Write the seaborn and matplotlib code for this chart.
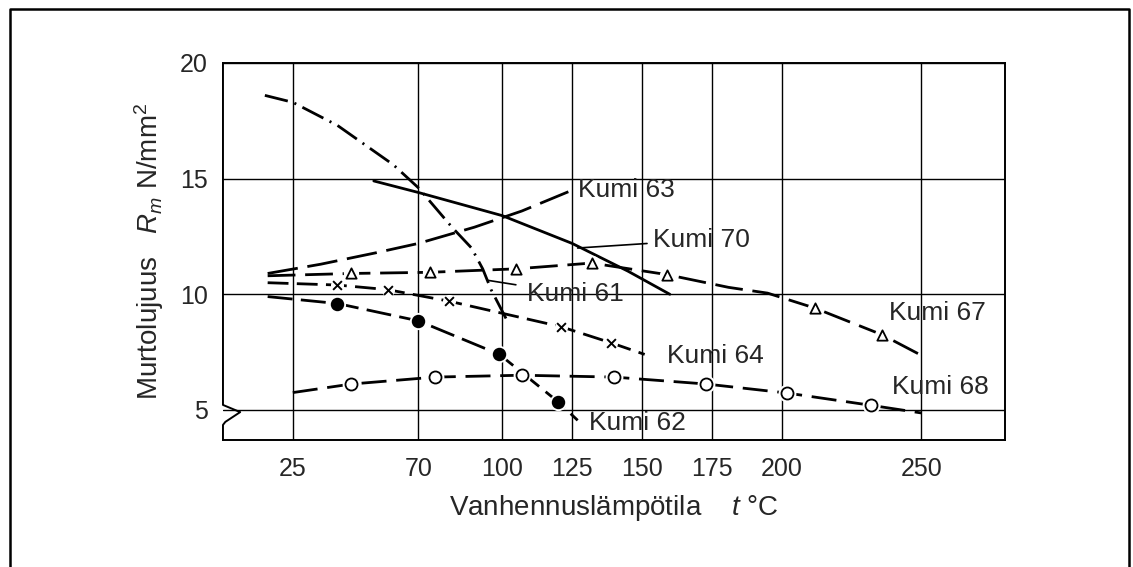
import matplotlib
matplotlib.use("Agg")
import matplotlib.pyplot as plt
from matplotlib.lines import Line2D
import seaborn as sns

# x = ageing temperature (degC), y = tensile strength Rm (N/mm2)
k61_x = [15, 25, 41, 61, 70, 82, 89, 93, 96, 102]
k61_y = [18.6, 18.3, 17.3, 15.6, 14.6, 12.9, 12.0, 11.1, 10.2, 8.8]

k70_x = [54, 70, 100, 125, 145, 160]
k70_y = [14.9, 14.4, 13.4, 12.2, 11.0, 10.0]

k63_x = [16, 35, 55, 70, 90, 107, 125]
k63_y = [10.9, 11.3, 11.8, 12.2, 12.9, 13.6, 14.5]

k67_x = [16, 46, 74, 105, 132, 159, 181, 195, 212, 236, 251]
k67_y = [10.8, 10.9, 10.95, 11.1, 11.35, 10.85, 10.3, 10.05, 9.4, 8.25, 7.3]
k67_px = [46, 74, 105, 132, 159, 212, 236]
k67_py = [10.9, 10.95, 11.1, 11.35, 10.85, 9.4, 8.25]

k64_x = [16, 41, 59, 81, 121, 139, 151]
k64_y = [10.5, 10.4, 10.2, 9.7, 8.6, 7.9, 7.4]
k64_px = [41, 59, 81, 121, 139]
k64_py = [10.4, 10.2, 9.7, 8.6, 7.9]

k62_x = [16, 41, 70, 99, 120, 127]
k62_y = [9.9, 9.6, 8.85, 7.4, 5.35, 4.55]
k62_px = [41, 70, 99, 120]
k62_py = [9.6, 8.85, 7.4, 5.35]

k68_x = [25, 46, 76, 107, 140, 173, 202, 232, 250]
k68_y = [5.75, 6.12, 6.42, 6.5, 6.42, 6.12, 5.73, 5.2, 4.87]
k68_px = [46, 76, 107, 140, 173, 202, 232]
k68_py = [6.12, 6.42, 6.5, 6.42, 6.12, 5.73, 5.2]

x_ticks = [25, 70, 100, 125, 150, 175, 200, 250]
y_ticks = [5, 10, 15, 20]

sns.set_style("white")
plt.rcParams["font.family"] = ["Liberation Sans", "DejaVu Sans"]
plt.rcParams["mathtext.fontset"] = "custom"
plt.rcParams["mathtext.rm"] = "Liberation Sans"
plt.rcParams["mathtext.it"] = "Liberation Sans:italic"
plt.rcParams["lines.scale_dashes"] = False

fig = plt.figure(figsize=(11.33, 5.67), dpi=100)
ax = fig.add_axes([0.1968, 0.224, 0.6902, 0.6649])

lw = 2.0
sns.lineplot(x=k61_x, y=k61_y, ax=ax, color="black", linewidth=lw, linestyle=(0, (17, 5, 1.5, 5)))
sns.lineplot(x=k70_x, y=k70_y, ax=ax, color="black", linewidth=lw)
sns.lineplot(x=k63_x, y=k63_y, ax=ax, color="black", linewidth=lw, linestyle=(0, (22, 7)))
sns.lineplot(x=k67_x, y=k67_y, ax=ax, color="black", linewidth=lw, linestyle=(0, (20, 7)))
sns.lineplot(x=k64_x, y=k64_y, ax=ax, color="black", linewidth=lw, linestyle=(0, (15, 6)))
sns.lineplot(x=k62_x, y=k62_y, ax=ax, color="black", linewidth=lw, linestyle=(0, (18, 6)))
sns.lineplot(x=k68_x, y=k68_y, ax=ax, color="black", linewidth=lw, linestyle=(0, (18, 7)))

# markers with a white halo so the line breaks around them
def points(xs, ys, marker, size, filled):
    sns.scatterplot(x=xs, y=ys, ax=ax, marker="o", s=size * 2.2, color="white",
                    edgecolor="white", linewidth=0, zorder=3)
    if marker == "x":
        sns.scatterplot(x=xs, y=ys, ax=ax, marker="x", s=size, color="black",
                        linewidth=1.4, zorder=4)
    else:
        sns.scatterplot(x=xs, y=ys, ax=ax, marker=marker, s=size,
                        color="black" if filled else "white",
                        edgecolor="black", linewidth=1.3, zorder=4)

points(k67_px, k67_py, "^", 55, False)
points(k64_px, k64_py, "x", 40, False)
points(k62_px, k62_py, "o", 70, True)
points(k68_px, k68_py, "o", 75, False)

fs = 19
ax.text(127, 14.5, "Kumi 63", fontsize=fs, ha="left", va="center")
ax.annotate("Kumi 70", xy=(127, 12.0), xytext=(154, 12.35), fontsize=fs,
            ha="left", va="center",
            arrowprops=dict(arrowstyle="-", color="black", lw=1.2, shrinkA=2, shrinkB=0))
ax.annotate("Kumi 61", xy=(95, 10.6), xytext=(109, 10.0), fontsize=fs,
            ha="left", va="center",
            arrowprops=dict(arrowstyle="-", color="black", lw=1.2, shrinkA=6, shrinkB=0))
ax.text(159, 7.35, "Kumi 64", fontsize=fs, ha="left", va="center")
ax.text(131, 4.45, "Kumi 62", fontsize=fs, ha="left", va="center")
ax.text(238.5, 9.2, "Kumi 67", fontsize=fs, ha="left", va="center")
ax.text(239.5, 6.0, "Kumi 68", fontsize=fs, ha="left", va="center")

ax.set_xlim(0, 280)
ax.set_ylim(3.7, 20)
ax.set_xticks(x_ticks)
ax.set_yticks(y_ticks)
ax.tick_params(axis="both", length=0, labelsize=18)
ax.tick_params(axis="x", pad=12)
ax.tick_params(axis="y", pad=11)
ax.grid(True, color="black", linewidth=1.0)
ax.set_axisbelow(True)

for side in ["top", "right", "bottom"]:
    ax.spines[side].set_color("black")
    ax.spines[side].set_linewidth(1.4)
ax.spines["left"].set_visible(False)
# left spine with the axis-break zigzag at y = 5
ax.add_line(Line2D([0, 0, 0.022, 0.003, 0, 0], [1, 0.093, 0.074, 0.048, 0.04, 0],
                   transform=ax.transAxes, color="black", linewidth=1.4, clip_on=False))

ax.set_xlabel("Vanhennuslämpötila    $t$ °C", fontsize=20, labelpad=9)
ax.set_ylabel("Murtolujuus   $R_m$ N/mm$^2$", fontsize=20, labelpad=10)

# frame around the whole drawing (bottom edge falls outside the picture)
fig.add_artist(Line2D([0.009, 0.009, 0.9965, 0.9965], [0.0, 0.984, 0.984, 0.0],
                      transform=fig.transFigure, color="black", linewidth=1.8))

fig.savefig("out.png", dpi=100)
